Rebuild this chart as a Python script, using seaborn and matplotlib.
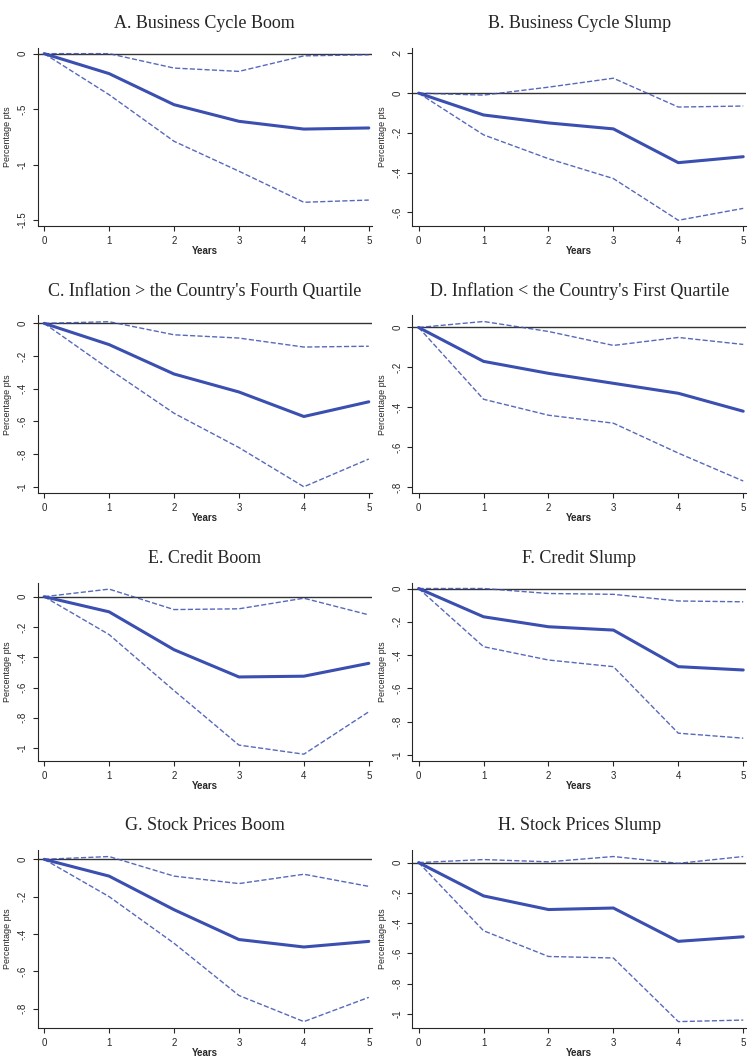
import matplotlib
matplotlib.use('Agg')
import matplotlib.pyplot as plt
import seaborn as sns
import pandas as pd
from matplotlib.ticker import FuncFormatter

years = [0, 1, 2, 3, 4, 5]
titles = ["A. Business Cycle Boom", "B. Business Cycle Slump",
          "C. Inflation > the Country's Fourth Quartile", "D. Inflation < the Country's First Quartile",
          "E. Credit Boom", "F. Credit Slump",
          "G. Stock Prices Boom", "H. Stock Prices Slump"]

mean_a = [0, -.18, -.46, -.61, -.68, -.67]
up_a = [0, 0, -.13, -.16, -.02, -.01]
lo_a = [0, -.37, -.79, -1.06, -1.34, -1.32]
mean_b = [0, -.11, -.15, -.18, -.35, -.32]
up_b = [0, -.01, .03, .075, -.07, -.065]
lo_b = [0, -.21, -.33, -.43, -.64, -.58]
mean_c = [0, -.13, -.31, -.42, -.57, -.48]
up_c = [0, .01, -.07, -.09, -.145, -.14]
lo_c = [0, -.28, -.55, -.76, -1.0, -.83]
mean_d = [0, -.17, -.23, -.28, -.33, -.42]
up_d = [0, .03, -.02, -.09, -.05, -.085]
lo_d = [0, -.36, -.44, -.48, -.63, -.77]
mean_e = [0, -.10, -.35, -.53, -.525, -.44]
up_e = [0, .05, -.085, -.08, -.01, -.12]
lo_e = [0, -.25, -.62, -.98, -1.04, -.76]
mean_f = [0, -.17, -.23, -.25, -.47, -.49]
up_f = [0, 0, -.03, -.035, -.075, -.08]
lo_f = [0, -.35, -.43, -.47, -.87, -.90]
mean_g = [0, -.09, -.27, -.43, -.47, -.44]
up_g = [0, .015, -.09, -.13, -.08, -.145]
lo_g = [0, -.2, -.45, -.73, -.87, -.74]
mean_h = [0, -.22, -.31, -.30, -.52, -.49]
up_h = [0, .02, .005, .04, -.005, .04]
lo_h = [0, -.45, -.62, -.63, -1.05, -1.04]

series = [(mean_a, up_a, lo_a), (mean_b, up_b, lo_b), (mean_c, up_c, lo_c), (mean_d, up_d, lo_d),
          (mean_e, up_e, lo_e), (mean_f, up_f, lo_f), (mean_g, up_g, lo_g), (mean_h, up_h, lo_h)]
yticks = [[0, -.5, -1, -1.5], [.2, 0, -.2, -.4, -.6],
          [0, -.2, -.4, -.6, -.8, -1], [0, -.2, -.4, -.6, -.8],
          [0, -.2, -.4, -.6, -.8, -1], [0, -.2, -.4, -.6, -.8, -1],
          [0, -.2, -.4, -.6, -.8], [0, -.2, -.4, -.6, -.8, -1]]


def stata_fmt(v, pos):
    if abs(v) < 1e-9:
        return "0"
    s = "%g" % round(v, 2)
    return s.replace("0.", ".")


sns.set_style("ticks")
plt.rcParams['font.family'] = ['Liberation Sans', 'DejaVu Sans']
blue = '#3a4fb0'

fig, axes = plt.subplots(4, 2, figsize=(7.54, 10.6), dpi=100)
for ax, title, (m, u, l), yt in zip(axes.flat, titles, series, yticks):
    df = pd.DataFrame({'Years': years, 'mean': m, 'up': u, 'lo': l})
    ax.axhline(0, color='#333333', lw=1)
    sns.lineplot(data=df, x='Years', y='mean', ax=ax, color=blue, lw=2.2)
    sns.lineplot(data=df, x='Years', y='up', ax=ax, color=blue, lw=1, ls='--', alpha=0.85)
    sns.lineplot(data=df, x='Years', y='lo', ax=ax, color=blue, lw=1, ls='--', alpha=0.85)
    ax.set_title(title, family='Liberation Serif', fontsize=13, pad=14)
    ax.set_xlim(-0.1, 5.05)
    ax.set_xticks(years)
    ax.set_yticks(yt)
    lo_all = min(l)
    hi_all = max(max(u), 0)
    pad = (hi_all - lo_all) * 0.04
    ax.set_ylim(min(lo_all, min(yt)) - pad, max(hi_all, max(yt)) + pad)
    ax.yaxis.set_major_formatter(FuncFormatter(stata_fmt))
    ax.tick_params(axis='y', labelrotation=90, labelsize=7)
    ax.tick_params(axis='x', labelsize=7)
    for lab in ax.get_yticklabels():
        lab.set_va('center')
    ax.set_xlabel('Years', fontsize=7, labelpad=0, fontweight='bold')
    ax.set_ylabel('Percentage pts', fontsize=6.5)
    sns.despine(ax=ax)

fig.subplots_adjust(left=0.05, right=0.99, top=0.955, bottom=0.03, hspace=0.5, wspace=0.12)
fig.savefig('out.png', dpi=100)
